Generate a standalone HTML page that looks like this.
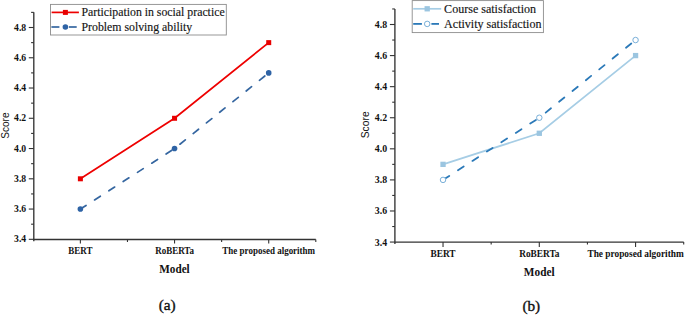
<!DOCTYPE html>
<html><head><meta charset="utf-8"><style>
html,body{margin:0;padding:0;background:#fff;}
body{width:685px;height:315px;overflow:hidden;}
svg{display:block;}
.yl,.xl{font-family:"Liberation Serif",serif;font-weight:bold;fill:#111;}
.sc{font-family:"Liberation Sans",sans-serif;fill:#111;}
.pl,.lg{font-family:"Liberation Serif",serif;fill:#111;}
.pl{stroke:#111;stroke-width:0.35px;}
.lg{stroke:#222;stroke-width:0.15px;}
</style></head><body>
<svg width="685" height="315" viewBox="0 0 685 315">
<rect width="685" height="315" fill="#fff"/>
<line x1="33.8" y1="12.3" x2="33.8" y2="241.3" stroke="#333" stroke-width="1.35"/>
<line x1="33.3" y1="239.5" x2="315.8" y2="239.5" stroke="#333" stroke-width="1.35"/>
<line x1="28.8" y1="239.32" x2="33.8" y2="239.32" stroke="#333" stroke-width="1.1"/>
<text x="26.2" y="242.37" text-anchor="end" class="yl" font-size="9.7">3.4</text>
<line x1="28.8" y1="209.06" x2="33.8" y2="209.06" stroke="#333" stroke-width="1.1"/>
<text x="26.2" y="212.11" text-anchor="end" class="yl" font-size="9.7">3.6</text>
<line x1="28.8" y1="178.8" x2="33.8" y2="178.8" stroke="#333" stroke-width="1.1"/>
<text x="26.2" y="181.85" text-anchor="end" class="yl" font-size="9.7">3.8</text>
<line x1="28.8" y1="148.54" x2="33.8" y2="148.54" stroke="#333" stroke-width="1.1"/>
<text x="26.2" y="151.59" text-anchor="end" class="yl" font-size="9.7">4.0</text>
<line x1="28.8" y1="118.28" x2="33.8" y2="118.28" stroke="#333" stroke-width="1.1"/>
<text x="26.2" y="121.33" text-anchor="end" class="yl" font-size="9.7">4.2</text>
<line x1="28.8" y1="88.02" x2="33.8" y2="88.02" stroke="#333" stroke-width="1.1"/>
<text x="26.2" y="91.07" text-anchor="end" class="yl" font-size="9.7">4.4</text>
<line x1="28.8" y1="57.76" x2="33.8" y2="57.76" stroke="#333" stroke-width="1.1"/>
<text x="26.2" y="60.81" text-anchor="end" class="yl" font-size="9.7">4.6</text>
<line x1="28.8" y1="27.5" x2="33.8" y2="27.5" stroke="#333" stroke-width="1.1"/>
<text x="26.2" y="30.55" text-anchor="end" class="yl" font-size="9.7">4.8</text>
<line x1="31.1" y1="224.19" x2="33.8" y2="224.19" stroke="#333" stroke-width="1.1"/>
<line x1="31.1" y1="193.93" x2="33.8" y2="193.93" stroke="#333" stroke-width="1.1"/>
<line x1="31.1" y1="163.67" x2="33.8" y2="163.67" stroke="#333" stroke-width="1.1"/>
<line x1="31.1" y1="133.41" x2="33.8" y2="133.41" stroke="#333" stroke-width="1.1"/>
<line x1="31.1" y1="103.15" x2="33.8" y2="103.15" stroke="#333" stroke-width="1.1"/>
<line x1="31.1" y1="72.89" x2="33.8" y2="72.89" stroke="#333" stroke-width="1.1"/>
<line x1="31.1" y1="42.63" x2="33.8" y2="42.63" stroke="#333" stroke-width="1.1"/>
<line x1="31.1" y1="12.37" x2="33.8" y2="12.37" stroke="#333" stroke-width="1.1"/>
<line x1="80.38" y1="239.5" x2="80.38" y2="243.5" stroke="#333" stroke-width="1.1"/>
<line x1="174.55" y1="239.5" x2="174.55" y2="243.5" stroke="#333" stroke-width="1.1"/>
<line x1="268.72" y1="239.5" x2="268.72" y2="243.5" stroke="#333" stroke-width="1.1"/>
<line x1="127.47" y1="239.5" x2="127.47" y2="242" stroke="#333" stroke-width="1.1"/>
<line x1="221.63" y1="239.5" x2="221.63" y2="242" stroke="#333" stroke-width="1.1"/>
<line x1="315.8" y1="239.5" x2="315.8" y2="242" stroke="#333" stroke-width="1.1"/>
<text transform="translate(80.38,254.3) scale(1,1.08)" text-anchor="middle" class="xl" font-size="9">BERT</text>
<text transform="translate(174.55,254.3) scale(1,1.08)" text-anchor="middle" class="xl" font-size="9">RoBERTa</text>
<text transform="translate(268.72,254.3) scale(1,1.08)" text-anchor="middle" class="xl" font-size="9">The proposed algorithm</text>
<text transform="translate(174.5,272.6) scale(1,1.12)" text-anchor="middle" class="xl" font-size="11.2">Model</text>
<text transform="translate(9.4,125.6) rotate(-90)" text-anchor="middle" class="sc" font-size="10.1">Score</text>
<text x="167.2" y="309.6" text-anchor="middle" class="pl" font-size="15.4">(a)</text>
<polyline points="80.38,178.8 174.55,118.28 268.72,42.63" fill="none" stroke="#ee0000" stroke-width="1.7"/>
<rect x="77.88" y="176.3" width="5" height="5" fill="#e80000"/>
<rect x="172.05" y="115.78" width="5" height="5" fill="#e80000"/>
<rect x="266.22" y="40.13" width="5" height="5" fill="#e80000"/>
<line x1="80.38" y1="209.06" x2="174.55" y2="148.54" stroke="#3566a0" stroke-width="1.7" stroke-linecap="round" stroke-dasharray="6.9 10.1" stroke-dashoffset="0.15"/>
<line x1="174.55" y1="148.54" x2="268.72" y2="72.89" stroke="#3566a0" stroke-width="1.7" stroke-linecap="round" stroke-dasharray="6.9 10.1" stroke-dashoffset="10.09"/>
<circle cx="80.38" cy="209.06" r="2.8" fill="#2e63a5"/>
<circle cx="174.55" cy="148.54" r="2.8" fill="#2e63a5"/>
<circle cx="268.72" cy="72.89" r="2.8" fill="#2e63a5"/>
<rect x="50.5" y="4.4" width="175.8" height="30.6" fill="#fff" stroke="#8c8c8c" stroke-width="0.9"/>
<line x1="51.6" y1="12.4" x2="78.9" y2="12.4" stroke="#ee0000" stroke-width="1.7"/>
<rect x="62.9" y="9.9" width="5" height="5" fill="#e80000"/>
<text x="81.5" y="16.1" class="lg" font-size="11.8">Participation in social practice</text>
<line x1="51.4" y1="27" x2="59.4" y2="27" stroke="#3566a0" stroke-width="1.7"/>
<line x1="68.9" y1="27" x2="76.7" y2="27" stroke="#3566a0" stroke-width="1.7"/>
<circle cx="65.4" cy="27" r="2.8" fill="#2e63a5"/>
<text x="81.5" y="30.9" class="lg" font-size="11.8">Problem solving ability</text>
<line x1="394.9" y1="8.9" x2="394.9" y2="243.9" stroke="#333" stroke-width="1.35"/>
<line x1="394.9" y1="242.1" x2="683.7" y2="242.1" stroke="#333" stroke-width="1.35"/>
<line x1="389.9" y1="242.06" x2="394.9" y2="242.06" stroke="#333" stroke-width="1.1"/>
<text x="387.2" y="245.56" text-anchor="end" class="yl" font-size="9.9">3.4</text>
<line x1="389.9" y1="210.98" x2="394.9" y2="210.98" stroke="#333" stroke-width="1.1"/>
<text x="387.2" y="214.48" text-anchor="end" class="yl" font-size="9.9">3.6</text>
<line x1="389.9" y1="179.9" x2="394.9" y2="179.9" stroke="#333" stroke-width="1.1"/>
<text x="387.2" y="183.4" text-anchor="end" class="yl" font-size="9.9">3.8</text>
<line x1="389.9" y1="148.82" x2="394.9" y2="148.82" stroke="#333" stroke-width="1.1"/>
<text x="387.2" y="152.32" text-anchor="end" class="yl" font-size="9.9">4.0</text>
<line x1="389.9" y1="117.74" x2="394.9" y2="117.74" stroke="#333" stroke-width="1.1"/>
<text x="387.2" y="121.24" text-anchor="end" class="yl" font-size="9.9">4.2</text>
<line x1="389.9" y1="86.66" x2="394.9" y2="86.66" stroke="#333" stroke-width="1.1"/>
<text x="387.2" y="90.16" text-anchor="end" class="yl" font-size="9.9">4.4</text>
<line x1="389.9" y1="55.58" x2="394.9" y2="55.58" stroke="#333" stroke-width="1.1"/>
<text x="387.2" y="59.08" text-anchor="end" class="yl" font-size="9.9">4.6</text>
<line x1="389.9" y1="24.5" x2="394.9" y2="24.5" stroke="#333" stroke-width="1.1"/>
<text x="387.2" y="28" text-anchor="end" class="yl" font-size="9.9">4.8</text>
<line x1="392.2" y1="226.52" x2="394.9" y2="226.52" stroke="#333" stroke-width="1.1"/>
<line x1="392.2" y1="195.44" x2="394.9" y2="195.44" stroke="#333" stroke-width="1.1"/>
<line x1="392.2" y1="164.36" x2="394.9" y2="164.36" stroke="#333" stroke-width="1.1"/>
<line x1="392.2" y1="133.28" x2="394.9" y2="133.28" stroke="#333" stroke-width="1.1"/>
<line x1="392.2" y1="102.2" x2="394.9" y2="102.2" stroke="#333" stroke-width="1.1"/>
<line x1="392.2" y1="71.12" x2="394.9" y2="71.12" stroke="#333" stroke-width="1.1"/>
<line x1="392.2" y1="40.04" x2="394.9" y2="40.04" stroke="#333" stroke-width="1.1"/>
<line x1="392.2" y1="8.96" x2="394.9" y2="8.96" stroke="#333" stroke-width="1.1"/>
<line x1="443.03" y1="242.1" x2="443.03" y2="246.9" stroke="#333" stroke-width="1.1"/>
<line x1="539.3" y1="242.1" x2="539.3" y2="246.9" stroke="#333" stroke-width="1.1"/>
<line x1="635.57" y1="242.1" x2="635.57" y2="246.9" stroke="#333" stroke-width="1.1"/>
<line x1="491.17" y1="242.1" x2="491.17" y2="244.6" stroke="#333" stroke-width="1.1"/>
<line x1="587.43" y1="242.1" x2="587.43" y2="244.6" stroke="#333" stroke-width="1.1"/>
<line x1="683.7" y1="242.1" x2="683.7" y2="244.6" stroke="#333" stroke-width="1.1"/>
<text transform="translate(443.03,257) scale(1,1.08)" text-anchor="middle" class="xl" font-size="9.35">BERT</text>
<text transform="translate(539.3,257) scale(1,1.08)" text-anchor="middle" class="xl" font-size="9.35">RoBERTa</text>
<text transform="translate(635.57,257) scale(1,1.08)" text-anchor="middle" class="xl" font-size="9.35">The proposed algorithm</text>
<text transform="translate(539.2,275.7) scale(1,1.12)" text-anchor="middle" class="xl" font-size="11.3">Model</text>
<text transform="translate(369.1,124.8) rotate(-90)" text-anchor="middle" class="sc" font-size="10.3">Score</text>
<text x="531.3" y="311" text-anchor="middle" class="pl" font-size="15.3">(b)</text>
<polyline points="443.03,164.36 539.3,133.28 635.57,55.58" fill="none" stroke="#a6cde5" stroke-width="1.7"/>
<rect x="440.38" y="161.71" width="5.3" height="5.3" fill="#9bc5e0"/>
<rect x="536.65" y="130.63" width="5.3" height="5.3" fill="#9bc5e0"/>
<rect x="632.92" y="52.93" width="5.3" height="5.3" fill="#9bc5e0"/>
<line x1="443.03" y1="179.9" x2="539.3" y2="117.74" stroke="#2b79b8" stroke-width="1.8" stroke-linecap="round" stroke-dasharray="6.8 10.4" stroke-dashoffset="16.6"/>
<line x1="539.3" y1="117.74" x2="635.57" y2="40.04" stroke="#2b79b8" stroke-width="1.8" stroke-linecap="round" stroke-dasharray="6.8 10.4" stroke-dashoffset="8.99"/>
<circle cx="443.03" cy="179.9" r="2.75" fill="#fff" stroke="#6aa6d4" stroke-width="0.9"/>
<circle cx="539.3" cy="117.74" r="2.75" fill="#fff" stroke="#6aa6d4" stroke-width="0.9"/>
<circle cx="635.57" cy="40.04" r="2.75" fill="#fff" stroke="#6aa6d4" stroke-width="0.9"/>
<rect x="412.2" y="0.6" width="131.2" height="32" fill="#fff" stroke="#8c8c8c" stroke-width="0.9"/>
<line x1="413.2" y1="8.8" x2="441.2" y2="8.8" stroke="#a6cde5" stroke-width="1.7"/>
<rect x="424.55" y="6.15" width="5.3" height="5.3" fill="#9bc5e0"/>
<text x="444.1" y="12.7" class="lg" font-size="12.05">Course satisfaction</text>
<line x1="413.2" y1="23.9" x2="421.9" y2="23.9" stroke="#2b79b8" stroke-width="1.8"/>
<line x1="431.4" y1="23.9" x2="439" y2="23.9" stroke="#2b79b8" stroke-width="1.8"/>
<circle cx="427.2" cy="23.9" r="2.75" fill="#fff" stroke="#6aa6d4" stroke-width="0.9"/>
<text x="444.1" y="27.7" class="lg" font-size="12.05">Activity satisfaction</text>
</svg>
</body></html>
